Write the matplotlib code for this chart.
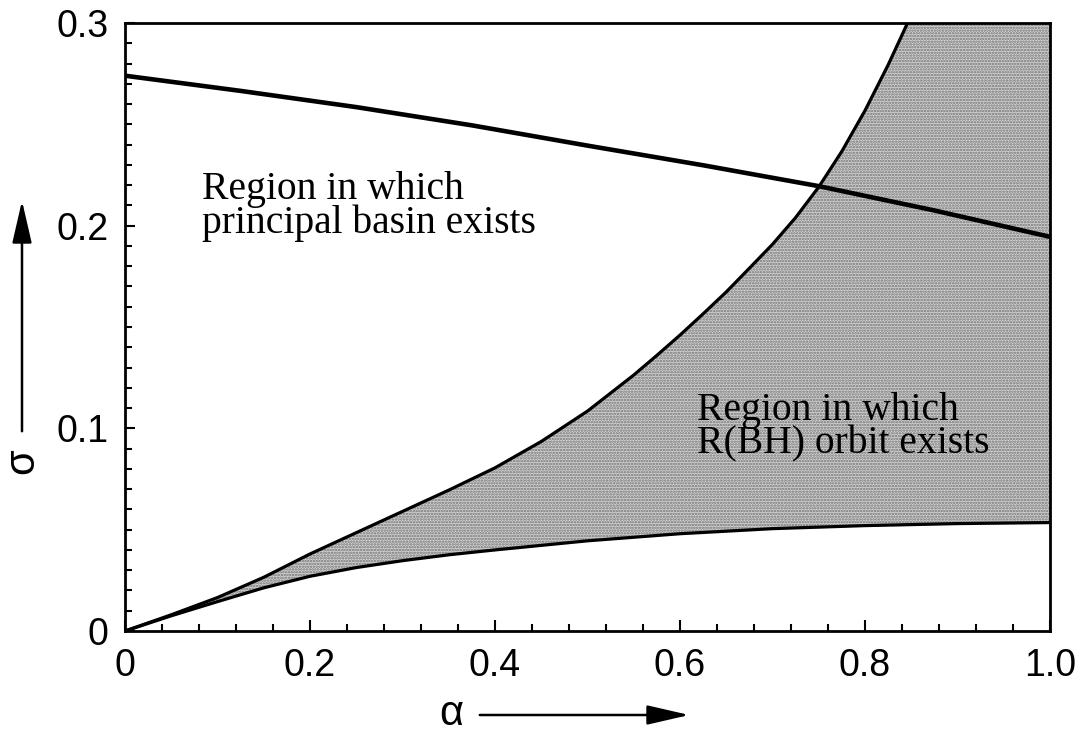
import matplotlib
matplotlib.use("Agg")
import matplotlib.pyplot as plt
from matplotlib.ticker import MultipleLocator

# curva superior da regiao R(BH)
alpha_sup = [0, 0.05, 0.1, 0.15, 0.2, 0.25, 0.3, 0.35, 0.4, 0.45, 0.5,
             0.55, 0.575, 0.6, 0.625, 0.65, 0.675, 0.7, 0.725, 0.75, 0.775,
             0.8, 0.825, 0.846]
sigma_sup = [0, 0.008, 0.0165, 0.0265, 0.038, 0.0485, 0.059, 0.0695,
             0.0805, 0.0935, 0.1085, 0.1263, 0.136, 0.146, 0.1565, 0.1673,
             0.179, 0.1908, 0.204, 0.2191, 0.2367, 0.2568, 0.2793, 0.3]

# curva inferior da regiao R(BH)
alpha_inf = [0, 0.05, 0.1, 0.15, 0.2, 0.25, 0.3, 0.35, 0.4, 0.5, 0.6, 0.7,
             0.8, 0.9, 1.0]
sigma_inf = [0, 0.0075, 0.0145, 0.0213, 0.027, 0.0313, 0.0347, 0.0376,
             0.040, 0.0445, 0.048, 0.0505, 0.052, 0.053, 0.0535]

# limite da bacia principal
alpha_bacia = [0, 0.125, 0.25, 0.375, 0.5, 0.625, 0.75, 0.875, 1.0]
sigma_bacia = [0.274, 0.2665, 0.2585, 0.2495, 0.2395, 0.2298, 0.2195,
               0.2075, 0.1945]

xticks = [0, 0.2, 0.4, 0.6, 0.8, 1.0]
xlabels = ["0", "0.2", "0.4", "0.6", "0.8", "1.0"]
yticks = [0, 0.1, 0.2, 0.3]
ylabels = ["0", "0.1", "0.2", "0.3"]

plt.rcParams['hatch.linewidth'] = 1.2

W, H = 1089, 733
fig = plt.figure(figsize=(W / 100, H / 100), dpi=100)
ax = fig.add_axes([125 / W, 1 - 631 / H, 925 / W, 608 / H])
ax.set_xlim(0, 1.0)
ax.set_ylim(0, 0.3)

# regiao sombreada: entre as duas curvas, cortada no topo do eixo
poly_x = alpha_sup + [1.0] + alpha_inf[::-1]
poly_y = sigma_sup + [0.3] + sigma_inf[::-1]
ax.fill(poly_x, poly_y, facecolor="#d4d4d4", edgecolor="#707070",
        linewidth=0, hatch="......", zorder=1)

ax.plot(alpha_sup, sigma_sup, color="black", lw=2.3, zorder=3,
        solid_joinstyle="round")
ax.plot(alpha_inf, sigma_inf, color="black", lw=2.3, zorder=3,
        solid_joinstyle="round")
ax.plot(alpha_bacia, sigma_bacia, color="black", lw=3.3, zorder=3,
        solid_joinstyle="round")

ax.set_xticks(xticks)
ax.set_xticklabels(xlabels)
ax.set_yticks(yticks)
ax.set_yticklabels(ylabels)
ax.xaxis.set_minor_locator(MultipleLocator(0.04))
ax.yaxis.set_minor_locator(MultipleLocator(0.01))
ax.tick_params(which="both", direction="in", top=False, right=False,
               width=1.5, labelsize=27, colors="black")
ax.tick_params(axis="x", which="major", length=8, pad=12)
ax.tick_params(axis="y", which="major", length=7, pad=12)
ax.tick_params(which="minor", length=5)
for lab in ax.get_xticklabels() + ax.get_yticklabels():
    lab.set_family("Liberation Sans")
for s in ax.spines.values():
    s.set_linewidth(2.0)

ax.text(0.083, 0.227, "Region in which\nprincipal basin exists",
        family="Liberation Serif", fontsize=28.5, ha="left", va="top",
        linespacing=0.88, zorder=4)
ax.text(0.618, 0.118, "Region in which\nR(BH) orbit exists",
        family="Liberation Serif", fontsize=28.5, ha="left", va="top",
        linespacing=0.88, zorder=4)

# rotulos dos eixos com setas
fig.text(451 / W, 1 - 714 / H, "α", family="Liberation Sans", fontsize=30,
         ha="center", va="center")
fig.text(22 / W, 1 - 461 / H, "σ", family="Liberation Sans", fontsize=30,
         ha="center", va="center", rotation=90)
seta = dict(arrowstyle="-|>,head_length=1.3,head_width=0.3", color="black",
            lw=1.8, mutation_scale=20)
ax.annotate("", xy=(692 / W, 1 - 715 / H), xytext=(477 / W, 1 - 715 / H),
            xycoords="figure fraction", textcoords="figure fraction",
            arrowprops=seta, annotation_clip=False)
ax.annotate("", xy=(22 / W, 1 - 198 / H), xytext=(22 / W, 1 - 434 / H),
            xycoords="figure fraction", textcoords="figure fraction",
            arrowprops=seta, annotation_clip=False)

fig.savefig("out.png", dpi=100)
